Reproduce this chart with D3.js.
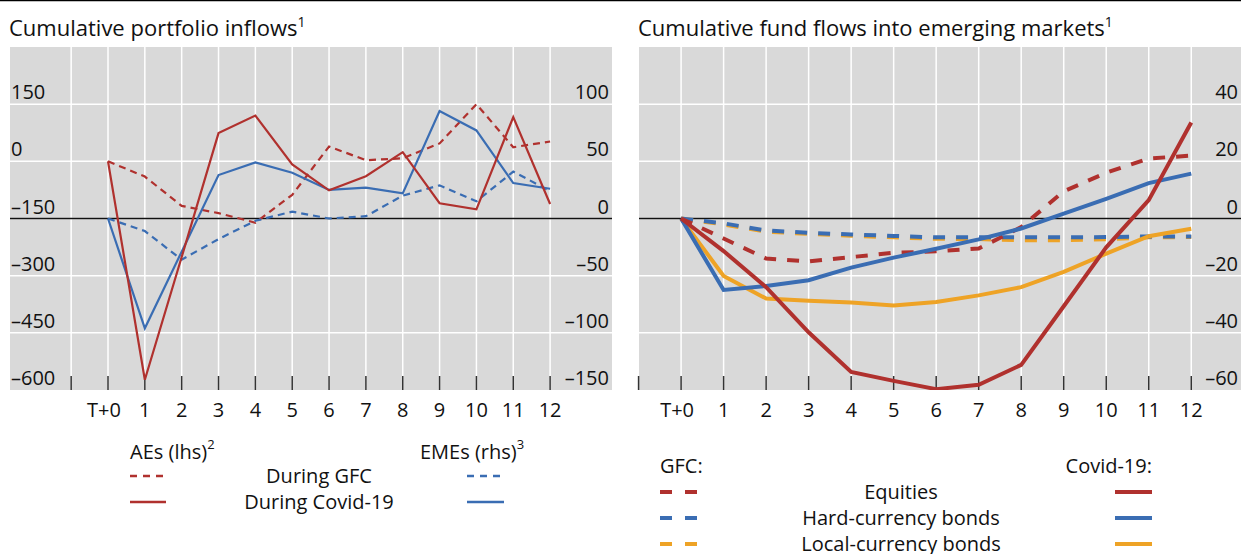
<!DOCTYPE html>
<html>
<head>
<meta charset="utf-8">
<script src="https://cdn.jsdelivr.net/npm/d3@7"></script>
<style>
  body { margin: 0; background: #fff; }
  svg text { font-family: "Open Sans", "Noto Sans", sans-serif; fill: #111; }
</style>
</head>
<body>
<svg id="chart" width="1241" height="554"></svg>
<script>
// Horizon labels (T+0 ... 12)
const horizons = ['T+0', '1', '2', '3', '4', '5', '6', '7', '8', '9', '10', '11', '12'];

// Left panel: cumulative portfolio inflows
const aesGfc = [0, -40, -117, -136, -161, -88, 39, 3, 8, 47, 150, 37, 52];
const aesCovid = [0, -573, -251, 74, 120, -8, -76, -39, 24, -110, -126, 116, -112];
const emesGfc = [0, -11, -36, -18, -2, 6, 0, 2, 20, 29, 15, 41, 24];
const emesCovid = [0, -96, -29, 38, 49, 40, 25, 27, 22, 94, 77, 31, 26];

const lhsTicks = [-600, -450, -300, -150, 0, 150];
const rhsTicks = [-150, -100, -50, 0, 50, 100];

// Right panel: cumulative fund flows into EMs
const equitiesGfc = [0, -7, -14, -15, -13.5, -12, -11.5, -10.5, -3, 9.5, 16, 21, 22];
const hardGfc = [0, -1.7, -4.2, -5, -5.6, -6.1, -6.6, -6.6, -6.6, -6.6, -6.5, -6.3, -6.3];
const localGfc = [0, -2.1, -4.6, -5.4, -6, -6.6, -7.1, -7.2, -7.6, -7.6, -7.3, -6.6, -6.5];
const equitiesCovid = [0, -11.4, -24, -39.8, -53.7, -56.8, -59.7, -58.2, -51.2, -30.7, -10.1, 6.4, 33.6];
const hardCovid = [0, -25, -23.6, -21.6, -17.2, -13.7, -10.6, -7.3, -3.5, 1.7, 6.9, 12.4, 15.7];
const localCovid = [0, -20.1, -28, -28.8, -29.4, -30.4, -29.2, -26.9, -24, -18.7, -12.3, -6.2, -3.6];

const fundTicks = [-60, -40, -20, 0, 20, 40];

const RED = '#b0312e';
const BLUE = '#3a6db3';
const YELLOW = '#eea326';
const GRID_BG = '#d9d9d9';
const FS = 20;

const svg = d3.select('#chart');

// thin rule across the top
svg.append('line')
    .attr('x1', 0).attr('x2', 1241)
    .attr('y1', 0.5).attr('y2', 0.5)
    .attr('stroke', '#000').attr('stroke-width', 1.5);

function drawPanel(cfg) {
    const g = svg.append('g');
    const x = d3.scaleLinear().domain(cfg.xDomain).range([cfg.left, cfg.right]);
    const yL = d3.scaleLinear().domain(cfg.yDomain).range([390, 47]);

    g.append('rect')
        .attr('x', cfg.left).attr('y', 47)
        .attr('width', cfg.right - cfg.left).attr('height', 343)
        .attr('fill', GRID_BG);

    // horizontal grid
    g.selectAll('.hgrid')
        .data(cfg.yTicks.filter((v) => v > cfg.yDomain[0]))
        .join('line')
        .attr('x1', cfg.left).attr('x2', cfg.right)
        .attr('y1', (d) => yL(d)).attr('y2', (d) => yL(d))
        .attr('stroke', '#fff').attr('stroke-width', 1.5);

    // vertical grid
    g.selectAll('.vgrid')
        .data(cfg.vGrid)
        .join('line')
        .attr('x1', (d) => x(d)).attr('x2', (d) => x(d))
        .attr('y1', 47).attr('y2', 390)
        .attr('stroke', '#fff').attr('stroke-width', 1.5);

    // zero line
    g.append('line')
        .attr('x1', cfg.left).attr('x2', cfg.right)
        .attr('y1', yL(cfg.zero)).attr('y2', yL(cfg.zero))
        .attr('stroke', '#111').attr('stroke-width', 1.5);

    // bottom ticks, pointing up into the plot
    g.selectAll('.xtick')
        .data(d3.range(-1, 13))
        .join('line')
        .attr('x1', (d) => x(d)).attr('x2', (d) => x(d))
        .attr('y1', 376).attr('y2', 390)
        .attr('stroke', '#333').attr('stroke-width', 1.5);

    // horizon labels
    g.selectAll('.xlab')
        .data(horizons)
        .join('text')
        .attr('x', (d, i) => x(i) - (i === 0 ? 4 : 0))
        .attr('y', 417)
        .attr('text-anchor', 'middle')
        .attr('font-size', FS)
        .text((d) => d);

    // tick labels, sitting just above their gridlines
    if (cfg.lhsLabels) {
        g.selectAll('.ylab')
            .data(cfg.lhsLabels)
            .join('text')
            .attr('x', cfg.left + 1)
            .attr('y', (d) => yL(d) - 5)
            .attr('font-size', FS)
            .text((d) => String(d).replace('-', '\u2013'));
    }
    const yR = d3.scaleLinear().domain(cfg.rhsDomain).range([390, 47]);
    g.selectAll('.yrlab')
        .data(cfg.rhsLabels)
        .join('text')
        .attr('x', cfg.right - 3)
        .attr('y', (d) => yR(d) - 5)
        .attr('text-anchor', 'end')
        .attr('font-size', FS)
        .text((d) => String(d).replace('-', '\u2013'));

    const clip = 'clip-' + cfg.id;
    g.append('clipPath').attr('id', clip)
        .append('rect')
        .attr('x', cfg.left).attr('y', 47)
        .attr('width', cfg.right - cfg.left).attr('height', 343);

    const lines = g.append('g').attr('clip-path', `url(#${clip})`);
    cfg.series.forEach((s) => {
        const yS = s.axis === 'rhs' ? yR : yL;
        const line = d3.line().x((d, i) => x(i)).y((d) => yS(d));
        lines.append('path')
            .datum(s.values)
            .attr('d', line)
            .attr('fill', 'none')
            .attr('stroke', s.color)
            .attr('stroke-width', cfg.lineWidth)
            .attr('stroke-dasharray', s.dashed ? cfg.dash : null);
    });

    // title
    const t = svg.append('text')
        .attr('x', cfg.left - 1)
        .attr('y', 36)
        .attr('font-size', 22)
        .text(cfg.title);
    t.append('tspan')
        .attr('font-size', 14)
        .attr('dy', -9)
        .text('1');
}

drawPanel({
    id: 'left',
    left: 10, right: 612,
    xDomain: [-2.66, 13.68],
    yDomain: [-600, 300],
    yTicks: lhsTicks,
    zero: -150,
    lhsLabels: lhsTicks,
    rhsDomain: [-150, 150],
    rhsLabels: rhsTicks,
    vGrid: d3.range(-1, 13),
    lineWidth: 2.2,
    dash: '7,5',
    title: 'Cumulative portfolio inflows',
    series: [
        { values: aesGfc, color: RED, dashed: true, axis: 'lhs' },
        { values: emesGfc, color: BLUE, dashed: true, axis: 'rhs' },
        { values: emesCovid, color: BLUE, dashed: false, axis: 'rhs' },
        { values: aesCovid, color: RED, dashed: false, axis: 'lhs' }
    ]
});

drawPanel({
    id: 'right',
    left: 639, right: 1241,
    xDomain: [-0.99, 13.17],
    yDomain: [-60, 60],
    yTicks: fundTicks,
    zero: 0,
    lhsLabels: null,
    rhsDomain: [-60, 60],
    rhsLabels: fundTicks,
    vGrid: d3.range(0, 13),
    lineWidth: 4,
    dash: '12,11',
    title: 'Cumulative fund flows into emerging markets',
    series: [
        { values: localGfc, color: YELLOW, dashed: true },
        { values: hardGfc, color: BLUE, dashed: true },
        { values: equitiesGfc, color: RED, dashed: true },
        { values: localCovid, color: YELLOW, dashed: false },
        { values: hardCovid, color: BLUE, dashed: false },
        { values: equitiesCovid, color: RED, dashed: false }
    ]
});

// Left legend
const legL = svg.append('g');
const headL = [
    { x: 130, text: 'AEs (lhs)', sup: '2' },
    { x: 420, text: 'EMEs (rhs)', sup: '3' }
];
headL.forEach((h) => {
    const t = legL.append('text').attr('x', h.x).attr('y', 459).attr('font-size', FS).text(h.text);
    t.append('tspan').attr('font-size', 13).attr('dy', -10).text(h.sup);
});
const rowsL = [
    { label: 'During GFC', dashed: true, y: 476 },
    { label: 'During Covid-19', dashed: false, y: 502 }
];
rowsL.forEach((r) => {
    legL.append('line').attr('x1', 130).attr('x2', 166).attr('y1', r.y).attr('y2', r.y)
        .attr('stroke', RED).attr('stroke-width', 2.5)
        .attr('stroke-dasharray', r.dashed ? '7,6' : null);
    legL.append('line').attr('x1', 467).attr('x2', 504).attr('y1', r.y).attr('y2', r.y)
        .attr('stroke', BLUE).attr('stroke-width', 2.5)
        .attr('stroke-dasharray', r.dashed ? '7,6' : null);
    legL.append('text').attr('x', 319).attr('y', r.y + 7).attr('text-anchor', 'middle')
        .attr('font-size', FS).text(r.label);
});

// Right legend
const legR = svg.append('g');
legR.append('text').attr('x', 660).attr('y', 473).attr('font-size', FS).text('GFC:');
legR.append('text').attr('x', 1152).attr('y', 473).attr('text-anchor', 'end').attr('font-size', FS).text('Covid-19:');
const rowsR = [
    { label: 'Equities', color: RED, y: 492 },
    { label: 'Hard-currency bonds', color: BLUE, y: 518 },
    { label: 'Local-currency bonds', color: YELLOW, y: 544 }
];
rowsR.forEach((r) => {
    legR.append('line').attr('x1', 660).attr('x2', 697).attr('y1', r.y).attr('y2', r.y)
        .attr('stroke', r.color).attr('stroke-width', 4)
        .attr('stroke-dasharray', '12,13');
    legR.append('line').attr('x1', 1115).attr('x2', 1152).attr('y1', r.y).attr('y2', r.y)
        .attr('stroke', r.color).attr('stroke-width', 4);
    legR.append('text').attr('x', 901).attr('y', r.y + 7).attr('text-anchor', 'middle')
        .attr('font-size', FS).text(r.label);
});
</script>
</body>
</html>
